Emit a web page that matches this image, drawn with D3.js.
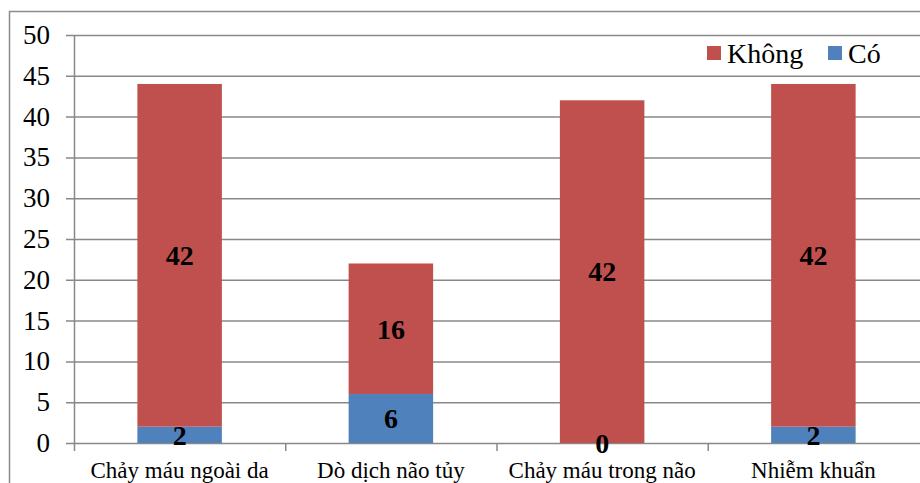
<!DOCTYPE html>
<html>
<head>
<meta charset="utf-8">
<script src="https://cdn.jsdelivr.net/npm/d3@7"></script>
<style>
  body { margin: 0; background: #fff; }
  svg { display: block; }
</style>
</head>
<body>
<svg id="chart"></svg>
<script>
const categories = ["Chảy máu ngoài da", "Dò dịch não tủy", "Chảy máu trong não", "Nhiễm khuẩn"];
const coValues = [2, 6, 0, 2];
const khongValues = [42, 16, 42, 42];
const yTicks = [0, 5, 10, 15, 20, 25, 30, 35, 40, 45, 50];
const seriesNames = ["Không", "Có"];

const width = 920, height = 483;
const margin = { top: 35, right: 1, bottom: 40, left: 74 };
const colors = { "Không": "#C0504D", "Có": "#4F81BD" };
const serif = "Liberation Serif";

const svg = d3.select("#chart").attr("width", width).attr("height", height);

// khung ngoài
svg.append("rect").attr("x", 9.5).attr("y", 11.5).attr("width", width).attr("height", height)
    .attr("fill", "none").attr("stroke", "#8c8c8c").attr("stroke-width", 1.5);

const x = d3.scaleBand().domain(categories).range([margin.left, width - margin.right]).paddingInner(0.6).paddingOuter(0.3);
const xOuter = d3.scaleBand().domain(categories).range([margin.left, width - margin.right]);
const y = d3.scaleLinear().domain([0, 50]).range([height - margin.bottom, margin.top]);

// gridlines
svg.append("g").selectAll("line").data(yTicks).enter().append("line")
    .attr("x1", margin.left - 8).attr("x2", width).attr("y1", d => y(d) + 0.5).attr("y2", d => y(d) + 0.5)
    .attr("stroke", "#888").attr("stroke-width", 1.5);

// y axis
svg.append("line").attr("x1", margin.left + 0.5).attr("x2", margin.left + 0.5).attr("y1", y(50)).attr("y2", y(0) + 8)
    .attr("stroke", "#888").attr("stroke-width", 1.5);
svg.append("g").selectAll("text").data(yTicks).enter().append("text")
    .attr("x", 50).attr("y", d => y(d) + 9).attr("text-anchor", "end")
    .attr("font-family", serif).attr("font-size", 27).attr("fill", "#000").text(d => d);

// x axis
svg.append("g").selectAll("line").data(categories.slice(1)).enter().append("line")
    .attr("x1", d => xOuter(d) + 0.5).attr("x2", d => xOuter(d) + 0.5).attr("y1", y(0)).attr("y2", y(0) + 8)
    .attr("stroke", "#888").attr("stroke-width", 1.5);
svg.append("g").selectAll("text").data(categories).enter().append("text")
    .attr("x", d => xOuter(d) + xOuter.bandwidth() / 2).attr("y", 478).attr("text-anchor", "middle")
    .attr("font-family", serif).attr("font-size", 23).attr("fill", "#000").text(d => d);

// bars
const rows = categories.map((c, i) => ({ cat: c, co: coValues[i], khong: khongValues[i] }));
const bars = svg.append("g");
bars.selectAll(".co").data(rows).enter().append("rect")
    .attr("x", d => x(d.cat)).attr("width", x.bandwidth())
    .attr("y", d => y(d.co)).attr("height", d => y(0) - y(d.co)).attr("fill", colors["Có"]);
bars.selectAll(".khong").data(rows).enter().append("rect")
    .attr("x", d => x(d.cat)).attr("width", x.bandwidth())
    .attr("y", d => y(d.co + d.khong)).attr("height", d => y(d.co) - y(d.co + d.khong)).attr("fill", colors["Không"]);

// nhãn giá trị
bars.selectAll(".lk").data(rows).enter().append("text")
    .attr("x", d => x(d.cat) + x.bandwidth() / 2).attr("y", d => y(d.co + d.khong / 2)).attr("dy", "0.35em")
    .attr("text-anchor", "middle").attr("font-family", serif).attr("font-size", 28).attr("font-weight", "bold").text(d => d.khong);
bars.selectAll(".lc").data(rows).enter().append("text")
    .attr("x", d => x(d.cat) + x.bandwidth() / 2).attr("y", d => y(d.co / 2)).attr("dy", "0.35em")
    .attr("text-anchor", "middle").attr("font-family", serif).attr("font-size", 28).attr("font-weight", "bold").text(d => d.co);

// legend
const legend = svg.append("g");
const legendX = [707, 828];
seriesNames.forEach((s, i) => {
    legend.append("rect").attr("x", legendX[i]).attr("y", 46).attr("width", 14).attr("height", 14).attr("fill", colors[s]);
    legend.append("text").attr("x", legendX[i] + 20).attr("y", 63).attr("font-family", serif)
        .attr("font-size", 28).attr("fill", "#000").text(s);
});
</script>
</body>
</html>
